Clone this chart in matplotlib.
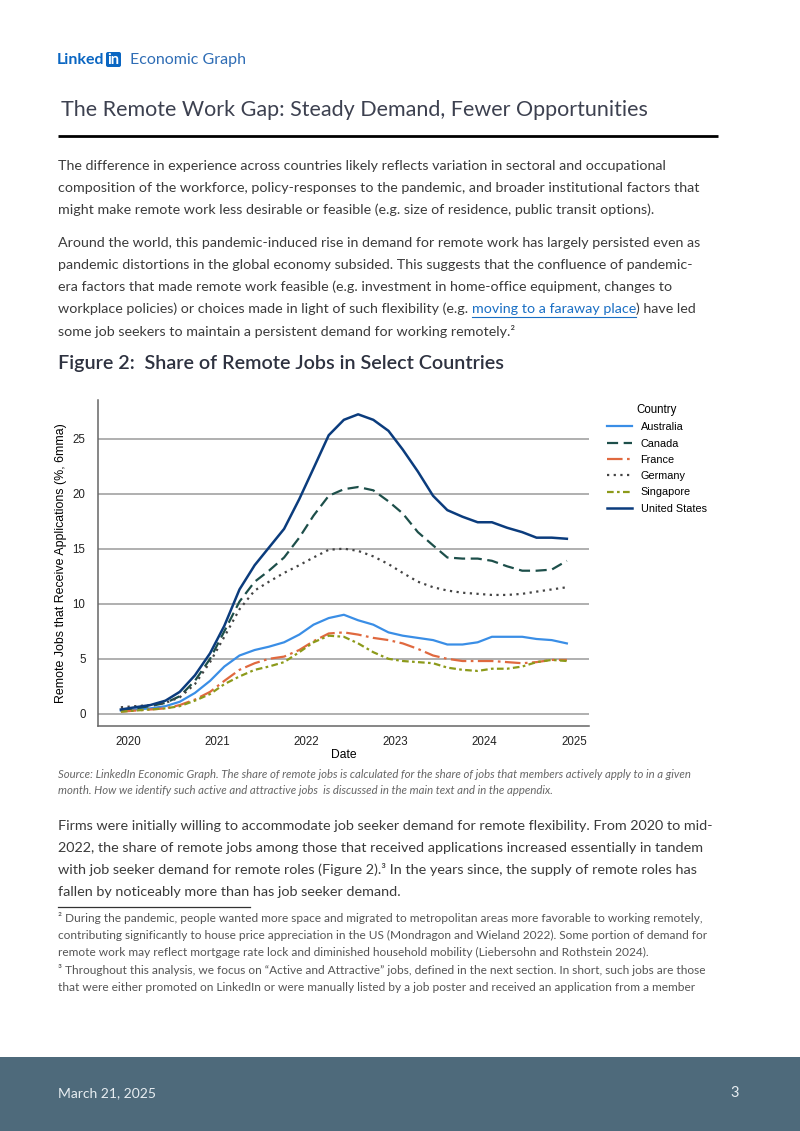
import matplotlib
matplotlib.use('Agg')
import matplotlib.pyplot as plt
from matplotlib.patches import Rectangle, FancyBboxPatch

# Chart data (share of remote jobs that receive applications, %, 6mma), every 2 months
dates = [2019.92, 2020.08, 2020.25, 2020.42, 2020.58, 2020.75, 2020.92,
         2021.08, 2021.25, 2021.42, 2021.58, 2021.75, 2021.92,
         2022.08, 2022.25, 2022.42, 2022.58, 2022.75, 2022.92,
         2023.08, 2023.25, 2023.42, 2023.58, 2023.75, 2023.92,
         2024.08, 2024.25, 2024.42, 2024.58, 2024.75, 2024.92]

australia = [0.3, 0.4, 0.5, 0.7, 1.1, 1.9, 3.0, 4.3, 5.3, 5.8, 6.1, 6.5, 7.2,
             8.1, 8.7, 9.0, 8.5, 8.1, 7.4, 7.1, 6.9, 6.7, 6.3, 6.3, 6.5,
             7.0, 7.0, 7.0, 6.8, 6.7, 6.4]
canada = [0.3, 0.5, 0.7, 1.0, 1.6, 3.0, 5.0, 7.5, 10.2, 12.0, 13.0, 14.2, 16.0,
          18.0, 19.8, 20.4, 20.6, 20.3, 19.3, 18.2, 16.5, 15.3, 14.2, 14.1, 14.1,
          13.9, 13.4, 13.0, 13.0, 13.1, 13.9]
france = [0.2, 0.3, 0.4, 0.5, 0.8, 1.3, 2.0, 3.0, 4.0, 4.6, 5.0, 5.2, 5.8,
          6.6, 7.3, 7.4, 7.2, 6.9, 6.7, 6.4, 5.9, 5.3, 5.0, 4.8, 4.8,
          4.8, 4.7, 4.6, 4.7, 4.9, 4.9]
germany = [0.6, 0.7, 0.8, 1.0, 1.5, 2.7, 4.7, 7.0, 9.5, 11.2, 12.0, 12.8, 13.5,
           14.2, 14.9, 15.0, 14.8, 14.3, 13.6, 12.8, 12.0, 11.5, 11.2, 11.0, 10.9,
           10.8, 10.8, 10.9, 11.1, 11.3, 11.5]
singapore = [0.2, 0.3, 0.4, 0.5, 0.7, 1.2, 1.8, 2.7, 3.4, 4.0, 4.3, 4.7, 5.6,
             6.5, 7.1, 7.0, 6.4, 5.6, 5.0, 4.8, 4.7, 4.6, 4.2, 4.0, 3.9,
             4.1, 4.1, 4.3, 4.7, 4.9, 4.8]
united_states = [0.4, 0.6, 0.8, 1.2, 2.0, 3.5, 5.5, 8.0, 11.3, 13.5, 15.1, 16.8, 19.5,
                 22.3, 25.3, 26.7, 27.2, 26.7, 25.7, 24.0, 22.0, 19.8, 18.5, 17.9, 17.4,
                 17.4, 16.9, 16.5, 16.0, 16.0, 15.9]

countries = ['Australia', 'Canada', 'France', 'Germany', 'Singapore', 'United States']
series = [australia, canada, france, germany, singapore, united_states]
year_ticks = [2020, 2021, 2022, 2023, 2024, 2025]
y_ticks = [0, 5, 10, 15, 20, 25]

# Page text
para1 = ["The difference in experience across countries likely reflects variation in sectoral and occupational",
         "composition of the workforce, policy-responses to the pandemic, and broader institutional factors that",
         "might make remote work less desirable or feasible (e.g. size of residence, public transit options)."]
para2 = ["Around the world, this pandemic-induced rise in demand for remote work has largely persisted even as",
         "pandemic distortions in the global economy subsided. This suggests that the confluence of pandemic-",
         "era factors that made remote work feasible (e.g. investment in home-office equipment, changes to"]
para3 = ["Firms were initially willing to accommodate job seeker demand for remote flexibility. From 2020 to mid-",
         "2022, the share of remote jobs among those that received applications increased essentially in tandem",
         "with job seeker demand for remote roles (Figure 2).\u00b3 In the years since, the supply of remote roles has",
         "fallen by noticeably more than has job seeker demand."]
source = ["Source: LinkedIn Economic Graph. The share of remote jobs is calculated for the share of jobs that members actively apply to in a given",
          "month. How we identify such active and attractive jobs  is discussed in the main text and in the appendix."]
notes = ["\u00b2 During the pandemic, people wanted more space and migrated to metropolitan areas more favorable to working remotely,",
         "contributing significantly to house price appreciation in the US (Mondragon and Wieland 2022). Some portion of demand for",
         "remote work may reflect mortgage rate lock and diminished household mobility (Liebersohn and Rothstein 2024).",
         "\u00b3 Throughout this analysis, we focus on \u201cActive and Attractive\u201d jobs, defined in the next section. In short, such jobs are those",
         "that were either promoted on LinkedIn or were manually listed by a job poster and received an application from a member"]

PAGE_FONT = 'Lato'
BODY = '#3b3b3b'
LI_BLUE = '#0a66c2'

fig = plt.figure(figsize=(8, 11.31), dpi=100)

# overlay in pixel coordinates for page layout
ov = fig.add_axes([0, 0, 1, 1])
ov.set_xlim(0, 800)
ov.set_ylim(1131, 0)
ov.axis('off')


def put(x, y, s, **kw):
    kw.setdefault('family', PAGE_FONT)
    kw.setdefault('va', 'center')
    return ov.text(x, y, s, **kw)


renderer = fig.canvas.get_renderer()


def width_px(t):
    return t.get_window_extent(renderer=renderer).width


# header logo
t = put(57, 60, 'Linked', fontsize=11.5, weight='bold', color=LI_BLUE)
x_in = 57 + width_px(t) + 1.5
ov.add_patch(FancyBboxPatch((x_in, 52), 15, 15, boxstyle='round,pad=0,rounding_size=2',
                            facecolor=LI_BLUE, edgecolor='none'))
put(x_in + 7.5, 60.5, 'in', fontsize=10.5, weight='bold', color='white', ha='center')
put(x_in + 24, 60, 'Economic Graph', fontsize=11.5, color='#2f6db5')

# title and rule
put(61, 110, 'The Remote Work Gap: Steady Demand, Fewer Opportunities', fontsize=15.5,
    color='#3d4150')
ov.plot([58, 718], [136, 136], color='black', lw=2, solid_capstyle='butt')

# paragraphs
BODY_SIZE = 10.3
for i, line in enumerate(para1):
    put(58, 166 + 22 * i, line, fontsize=BODY_SIZE, color=BODY)
for i, line in enumerate(para2):
    put(58, 243 + 22 * i, line, fontsize=BODY_SIZE, color=BODY)

# line with link
t = put(58, 309, 'workplace policies) or choices made in light of such flexibility (e.g. ', fontsize=BODY_SIZE, color=BODY)
x1 = 58 + width_px(t)
t = put(x1, 309, 'moving to a faraway place', fontsize=BODY_SIZE, color='#1a6fc4')
x2 = x1 + width_px(t)
ov.plot([x1, x2], [316.5, 316.5], color='#1a6fc4', lw=0.8)
put(x2, 309, ') have led', fontsize=BODY_SIZE, color=BODY)
put(58, 331, 'some job seekers to maintain a persistent demand for working remotely.\u00b2', fontsize=BODY_SIZE, color=BODY)

put(58, 364, 'Figure 2:  Share of Remote Jobs in Select Countries', fontsize=14.2, weight='semibold', color='#2e3240')

for i, line in enumerate(source):
    put(58, 775 + 16 * i, line, fontsize=8.2, style='italic', color='#666666')
for i, line in enumerate(para3):
    put(58, 826 + 22 * i, line, fontsize=10.4, color=BODY)

ov.plot([58, 250], [907, 907], color='#333333', lw=0.9)
for i, line in enumerate(notes):
    put(58, 918 + 17.3 * i, line, fontsize=8.6, color='#555555')

# footer band
ov.add_patch(Rectangle((0, 1057), 800, 74, facecolor='#4e6a7b', edgecolor='none'))
put(58, 1093, 'March 21, 2025', fontsize=10, color='#e8eef2')
put(735, 1093, '3', fontsize=10.5, color='#e8eef2', ha='center')

# chart
ax = fig.add_axes([98 / 800, 1 - 726 / 1131, (589 - 98) / 800, (726 - 400) / 1131])
ax.set_facecolor('none')
colors = ['#3a8ee6', '#1d4f4a', '#e0693f', '#444444', '#8c9a1a', '#0b3c7d']
styles = ['-', (0, (5, 2.5)), (0, (7, 2, 1.2, 2)), (0, (1, 2)), (0, (3, 1.5, 1.2, 1.5)), '-']
widths = [1.6, 1.6, 1.6, 1.6, 1.6, 1.8]
for name, vals, c, ls, lw in zip(countries, series, colors, styles, widths):
    ax.plot(dates, vals, color=c, linestyle=ls, linewidth=lw, label=name)

ax.set_xlim(2020 - 30 / 89.2, 2025 + 15 / 89.2)
ax.set_ylim(-1.1, 28.5)
ax.set_xticks(year_ticks)
ax.set_yticks(y_ticks)
ax.set_xticklabels([str(v) for v in year_ticks], family='Liberation Sans', fontsize=8.3, color='#222222')
ax.set_yticklabels([str(v) for v in y_ticks], family='Liberation Sans', fontsize=8.3, color='#222222')
ax.tick_params(axis='x', length=0, pad=7)
ax.tick_params(axis='y', length=0, pad=9)
ax.grid(axis='y', color='#9a9a9a', linewidth=1.1)
ax.set_axisbelow(True)
for side in ['top', 'right']:
    ax.spines[side].set_visible(False)
for side in ['left', 'bottom']:
    ax.spines[side].set_color('#666666')
    ax.spines[side].set_linewidth(1.1)
ax.set_xlabel('Date', family='Liberation Sans', fontsize=8.7, labelpad=1)
ax.set_ylabel('Remote Jobs that Receive Applications (%, 6mma)', family='Liberation Sans',
              fontsize=8.9, labelpad=4)

leg = ax.legend(loc='upper left', bbox_to_anchor=(607 / 800, 1 - 404 / 1131),
                bbox_transform=fig.transFigure, frameon=False, title='Country',
                prop={'family': 'Liberation Sans', 'size': 7.8}, borderpad=0,
                borderaxespad=0, handlelength=2.3, handletextpad=0.8, labelspacing=0.58)
leg.get_title().set_family('Liberation Sans')
leg.get_title().set_fontsize(8.3)

fig.savefig('out.png', dpi=100)
